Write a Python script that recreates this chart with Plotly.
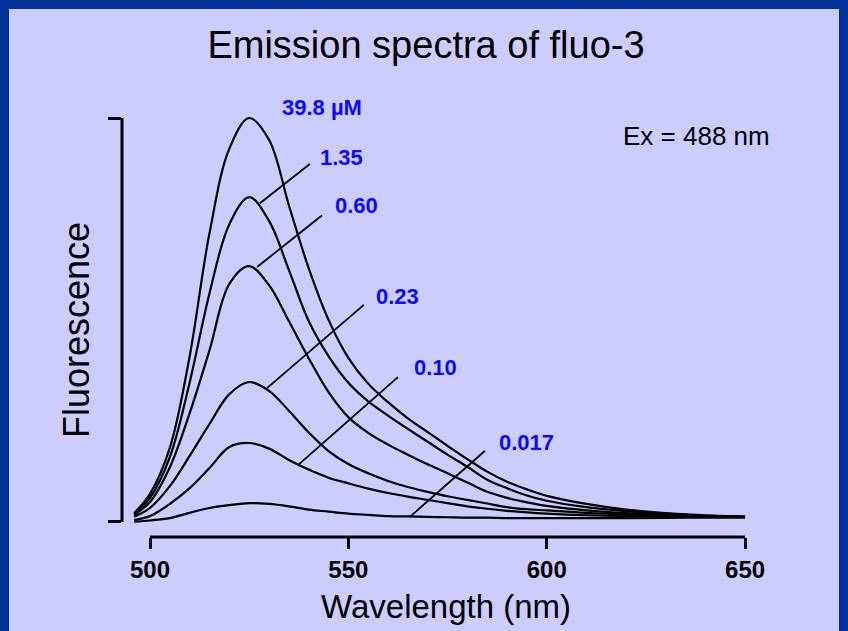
import plotly.graph_objects as go

# ---- data ----
wavelength = [496, 500, 505, 510, 515, 520, 525, 530, 535, 540, 545, 550, 555,
              560, 565, 570, 575, 580, 585, 590, 595, 600, 610, 620, 635, 650]
conc_labels = ["39.8 µM", "1.35", "0.60", "0.23", "0.10", "0.017"]
f_398 = [2.1, 6.9, 18.3, 41.0, 71.5, 92.4, 100.0, 94.6, 78.4, 62.8, 50.0, 40.6, 34.2,
         29.6, 25.6, 22.2, 18.8, 15.5, 12.4, 9.9, 8.0, 6.4, 4.4, 3.0, 1.8, 1.2]
f_135 = [1.9, 5.9, 16.0, 34.5, 56.6, 73.7, 80.4, 74.5, 62.4, 49.7, 41.0, 34.4, 29.8,
         26.3, 23.0, 19.8, 16.6, 13.6, 10.4, 8.3, 6.5, 5.2, 3.6, 2.6, 1.7, 1.2]
f_060 = [1.7, 4.9, 13.5, 26.9, 42.5, 58.9, 63.3, 58.6, 49.7, 40.5, 32.1, 25.9, 22.0,
         19.1, 16.6, 14.2, 12.0, 9.7, 7.4, 5.9, 4.8, 3.9, 2.8, 2.1, 1.5, 1.2]
f_023 = [1.2, 3.4, 8.8, 16.3, 24.2, 31.6, 34.6, 32.4, 27.5, 22.1, 17.5, 14.3, 12.0,
         10.1, 8.6, 7.4, 6.3, 5.4, 4.5, 3.6, 3.1, 2.8, 2.2, 1.8, 1.4, 1.2]
f_010 = [0.4, 1.4, 4.4, 8.3, 13.3, 18.5, 19.5, 18.1, 15.3, 12.9, 10.9, 9.5, 8.2,
         7.1, 6.2, 5.4, 4.6, 3.8, 3.2, 2.7, 2.3, 2.0, 1.6, 1.4, 1.3, 1.2]
f_0017 = [0.0, 0.3, 0.9, 2.2, 3.4, 4.1, 4.6, 4.4, 3.8, 3.0, 2.5, 2.0, 1.7,
          1.4, 1.3, 1.2, 1.1, 1.0, 1.0, 0.9, 0.9, 0.9, 0.9, 0.9, 1.0, 1.0]
series = [f_398, f_135, f_060, f_023, f_010, f_0017]

# label positions (nm, fluorescence) and leader lines
label_x = [532.8, 542.3, 546.1, 556.5, 566.0, 587.5]
label_y = [102.7, 90.3, 78.4, 55.9, 38.1, 19.5]
leader_x0 = [None, 527.7, 527.0, 529.5, 537.3, 565.5]
leader_y0 = [None, 78.9, 63.1, 33.1, 14.0, 1.2]
leader_x1 = [None, 540.3, 543.4, 553.9, 562.5, 584.4]
leader_y1 = [None, 88.6, 75.9, 53.7, 35.8, 17.5]

x_ticks = [500, 550, 600, 650]
y_bracket = [0, 100]

# ---- layout geometry (pixels) ----
W, H = 848, 631
L, R, T, B = 122, 760, 100, 537
px_per_nm = 3.967
x500_px = 150
px_per_unit = 4.037
y0_px = 521.7
x_range = [500 - (x500_px - L) / px_per_nm, 500 + (R - x500_px) / px_per_nm]
y_range = [(y0_px - B) / px_per_unit, (y0_px - T) / px_per_unit]


def px_to_paper(px, py):
    return (px - L) / (R - L), (B - py) / (B - T)


BG = "#ccccff"
BORDER = "#003399"
LABEL_BLUE = "#0a0aff"
FONT = "Liberation Sans"

fig = go.Figure()
for s in series:
    fig.add_trace(go.Scatter(x=wavelength, y=s, mode="lines",
                             line=dict(color="black", width=2.2, shape="spline", smoothing=1.0),
                             hoverinfo="skip", showlegend=False))

for i in range(1, len(conc_labels)):
    fig.add_trace(go.Scatter(x=[leader_x0[i], leader_x1[i]], y=[leader_y0[i], leader_y1[i]],
                             mode="lines", line=dict(color="black", width=1.8),
                             hoverinfo="skip", showlegend=False))

annotations = []
for lab, lx, ly in zip(conc_labels, label_x, label_y):
    annotations.append(dict(x=lx, y=ly, xref="x", yref="y", text=lab, showarrow=False,
                            xanchor="left", yanchor="middle",
                            font=dict(family=FONT, size=22, color=LABEL_BLUE, weight="bold")))

ex_x, ex_y = px_to_paper(696, 136)
annotations.append(dict(x=ex_x, y=ex_y, xref="paper", yref="paper", text="Ex = 488 nm",
                        showarrow=False, xanchor="center", yanchor="middle",
                        font=dict(family=FONT, size=26, color="black")))
xt_x, xt_y = px_to_paper(446, 606)
annotations.append(dict(x=xt_x, y=xt_y, xref="paper", yref="paper", text="Wavelength (nm)",
                        showarrow=False, xanchor="center", yanchor="middle",
                        font=dict(family=FONT, size=33, color="black")))
yt_x, yt_y = px_to_paper(76, 330)
annotations.append(dict(x=yt_x, y=yt_y, xref="paper", yref="paper", text="Fluorescence",
                        showarrow=False, xanchor="center", yanchor="middle", textangle=-90,
                        font=dict(family=FONT, size=36, color="black")))

bx0, _ = px_to_paper(0, 0)
bx9, _ = px_to_paper(9, 0)
bxr, _ = px_to_paper(839, 0)
bxW, _ = px_to_paper(W, 0)
_, byT = px_to_paper(0, 0)
_, by9 = px_to_paper(0, 9)
_, byH = px_to_paper(0, H)

shapes = [
    # x-axis baseline from 500 to 650
    dict(type="line", xref="x", yref="paper", x0=500, x1=650, y0=0, y1=0,
         line=dict(color="black", width=3)),
    # y bracket vertical line
    dict(type="line", xref="paper", yref="y", x0=0, x1=0, y0=y_bracket[0], y1=y_bracket[1],
         line=dict(color="black", width=3)),
    # blue frame
    dict(type="rect", xref="paper", yref="paper", layer="below",
         x0=bx0, x1=bx9, y0=byH, y1=byT, fillcolor=BORDER, line=dict(width=0)),
    dict(type="rect", xref="paper", yref="paper", layer="below",
         x0=bx0, x1=bxW, y0=by9, y1=byT, fillcolor=BORDER, line=dict(width=0)),
    dict(type="rect", xref="paper", yref="paper", layer="below",
         x0=bxr, x1=bxW, y0=byH, y1=byT, fillcolor=BORDER, line=dict(width=0)),
]

fig.update_layout(
    width=W, height=H,
    margin=dict(l=L, r=W - R, t=T, b=H - B, pad=0),
    paper_bgcolor=BG, plot_bgcolor=BG,
    title=dict(text="Emission spectra of fluo-3", x=426 / W, y=1 - 45 / H,
               xanchor="center", yanchor="middle",
               font=dict(family=FONT, size=38, color="black")),
    xaxis=dict(range=x_range, tickvals=x_ticks, ticks="outside", ticklen=11, tickwidth=3,
               tickcolor="black", showline=False, showgrid=False, zeroline=False,
               tickfont=dict(family=FONT, size=24, color="black", weight="bold")),
    yaxis=dict(range=y_range, tickvals=y_bracket, ticks="outside", ticklen=13, tickwidth=3,
               tickcolor="black", showticklabels=False, showline=False, showgrid=False,
               zeroline=False),
    annotations=annotations,
    shapes=shapes,
)

fig.write_html("out.html")
